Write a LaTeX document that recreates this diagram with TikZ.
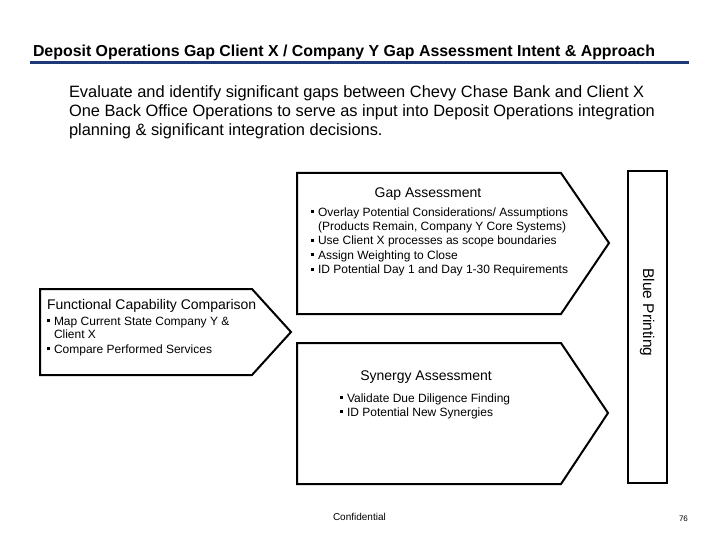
\documentclass[tikz,border=0pt]{standalone}
\usepackage{fontspec}
\setmainfont{Liberation Sans}
\definecolor{navy}{RGB}{31,56,120}
\newcommand{\bul}{\makebox[7pt][l]{\raisebox{2.8pt}{\rule{3pt}{3pt}}}}
\newcommand{\bulind}{\hspace*{7pt}}
\begin{document}
\begin{tikzpicture}[x=1pt,y=-1pt,
  txt/.style={anchor=base west, inner sep=0pt, outer sep=0pt},
  ctxt/.style={anchor=base, inner sep=0pt, outer sep=0pt},
  shapeline/.style={draw=black, line width=2pt, line join=miter},
  titlef/.style={font=\fontsize{15.9}{18}\selectfont\bfseries},
  parf/.style={font=\fontsize{16.4}{19}\selectfont},
  headf/.style={font=\fontsize{14}{17}\selectfont},
  itemf/.style={font=\fontsize{12}{14}\selectfont}]
\useasboundingbox (0,0) rectangle (720,540);
% title
\node[txt, titlef] (title) at (33,57) {Deposit Operations Gap Client X / Company Y Gap Assessment Intent \& Approach};
\coordinate (ruleL) at (30,63);
\coordinate (ruleR) at (689,63);
\draw[navy, line width=3pt] (ruleL) -- (ruleR);
% paragraph
\node[txt, parf] (p1) at (69,98) {Evaluate and identify significant gaps between Chevy Chase Bank and Client X};
\node[txt, parf] (p2) at (69,117) {One Back Office Operations to serve as input into Deposit Operations integration};
\node[txt, parf] (p3) at (69,136) {planning \& significant integration decisions.};
% shapes
\draw[shapeline] (297,173) -- (561,173) -- (609,243) -- (561,314) -- (297,314) -- cycle;
\draw[shapeline] (297,343) -- (561,343) -- (608,413) -- (561,484) -- (297,484) -- cycle;
\draw[shapeline] (40,289) -- (252,289) -- (291,332) -- (252,375) -- (40,375) -- cycle;
\draw[shapeline] (628,171) rectangle (667,483);
% gap assessment
\node[ctxt, headf] (gaph) at (428,197) {Gap Assessment};
\node[txt, itemf] (g1) at (311,216) {\bul Overlay Potential Considerations/ Assumptions};
\node[txt, itemf] (g2) at (311,230) {\bulind (Products Remain, Company Y Core Systems)};
\node[txt, itemf] (g3) at (311,244.5) {\bul Use Client X processes as scope boundaries};
\node[txt, itemf] (g4) at (311,259) {\bul Assign Weighting to Close};
\node[txt, itemf] (g5) at (311,273.5) {\bul ID Potential Day 1 and Day 1-30 Requirements};
% functional
\node[txt, headf] (fh) at (47,309) {Functional Capability Comparison};
\node[txt, itemf] (f1) at (47,325) {\bul Map Current State Company Y \&};
\node[txt, itemf] (f2) at (47,338.5) {\bulind Client X};
\node[txt, itemf] (f3) at (47,353) {\bul Compare Performed Services};
% synergy
\node[ctxt, headf] (sh) at (426,380) {Synergy Assessment};
\node[txt, itemf] (s1) at (340,402) {\bul Validate Due Diligence Finding};
\node[txt, itemf] (s2) at (340,416) {\bul ID Potential New Synergies};
% blue printing
\node[font=\fontsize{15.5}{18}\selectfont, rotate=-90, inner sep=0pt] (bp) at (647,312.5) {Blue Printing};
% footer
\node[txt, font=\fontsize{10}{12}\selectfont] (conf) at (333,520) {Confidential};
\node[txt, font=\fontsize{8}{10}\selectfont] (pg) at (679,521) {76};
\end{tikzpicture}
\end{document}
